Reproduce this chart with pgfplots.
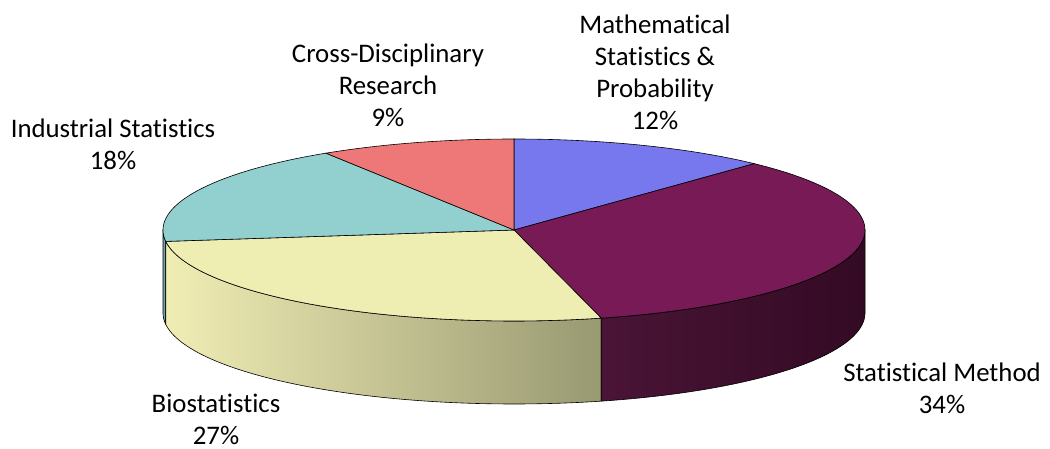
\documentclass[border=0pt]{standalone}
\usepackage{pgfplots}
\pgfplotsset{compat=1.18}
\usepackage{fontspec}
\setmainfont{Carlito}[Ligatures={NoCommon}]
\definecolor{cMath}{HTML}{7777EE}
\definecolor{cStat}{HTML}{771A55}
\definecolor{cStatSideA}{HTML}{4A1436}
\definecolor{cStatSideB}{HTML}{330A24}
\definecolor{cBio}{HTML}{EEEDB2}
\definecolor{cBioSideA}{HTML}{F0EDB4}
\definecolor{cBioSideB}{HTML}{999972}
\definecolor{cInd}{HTML}{92CFCF}
\definecolor{cCross}{HTML}{EE7777}
% shares (percent)
\def\vMath{12}\def\vStat{34}\def\vBio{27}\def\vInd{18}\def\vCross{9}
\pgfmathsetmacro\aB{3.6*\vMath}
\pgfmathsetmacro\aC{\aB+3.6*\vStat}
\pgfmathsetmacro\aD{\aC+3.6*\vBio}
\pgfmathsetmacro\aE{\aD+3.6*\vInd}
\pgfmathsetmacro\aF{\aE+3.6*\vCross}
\newcommand\topslice[3]{%
  \addplot[draw=black, line width=0.3bp, fill=#3, domain=#1:#2, samples=80, variable=\t]
    ({514+351*sin(\t)},{219+91*cos(\t)}) -- (axis cs:514,219) -- cycle;}
% side: s in [0,1.5] top arc t1->t2 (clamped), s in (1.5,2.6] bottom arc t2->t1
\newcommand\sideslice[3]{%
  \addplot[draw=black, line width=0.3bp, #3, domain=0:2.6, samples=261, variable=\s]
    ({514+351*sin(ifthenelse(\s<=1.5, #1+min(\s,1)*(#2-#1), #2-min(max(\s-1.6,0),1)*(#2-#1)))},
     {219+91*cos(ifthenelse(\s<=1.5, #1+min(\s,1)*(#2-#1), #2-min(max(\s-1.6,0),1)*(#2-#1))) - ifthenelse(\s<=1.5,0,83)}) -- cycle;}
\begin{document}
\begin{tikzpicture}
\begin{axis}[
  width=525bp, height=224.5bp, scale only axis,
  xmin=0, xmax=1050, ymin=0, ymax=449,
  hide axis, clip=false,
]
\coordinate (SW) at (axis cs:0,0);
\coordinate (NE) at (axis cs:1050,449);
% sides
\sideslice{\aD}{270}{fill=cInd!80!black}
\sideslice{\aC}{\aD}{left color=cBioSideA, right color=cBioSideB}
\sideslice{90}{\aC}{left color=cStatSideA, right color=cStatSideB}
% tops
\topslice{0}{\aB}{cMath}
\topslice{\aB}{\aC}{cStat}
\topslice{\aC}{\aD}{cBio}
\topslice{\aD}{\aE}{cInd}
\topslice{\aE}{\aF}{cCross}
% labels
\tikzset{lbl/.style={align=center, font=\fontsize{13.4bp}{16bp}\selectfont, inner sep=0pt}}
\node[lbl] at (axis cs:655,377) {Mathematical\\Statistics \&\\Probability\\\vMath\%};
\node[lbl] at (axis cs:388,364) {Cross-Disciplinary\\Research\\\vCross\%};
\node[lbl] at (axis cs:113,305) {Industrial Statistics\\\vInd\%};
\node[lbl] at (axis cs:216,30) {Biostatistics\\\vBio\%};
\node[lbl] at (axis cs:942,61) {Statistical Method\\\vStat\%};
\end{axis}
\pgfresetboundingbox
\path[use as bounding box] (SW) rectangle (NE);
\end{tikzpicture}
\end{document}
